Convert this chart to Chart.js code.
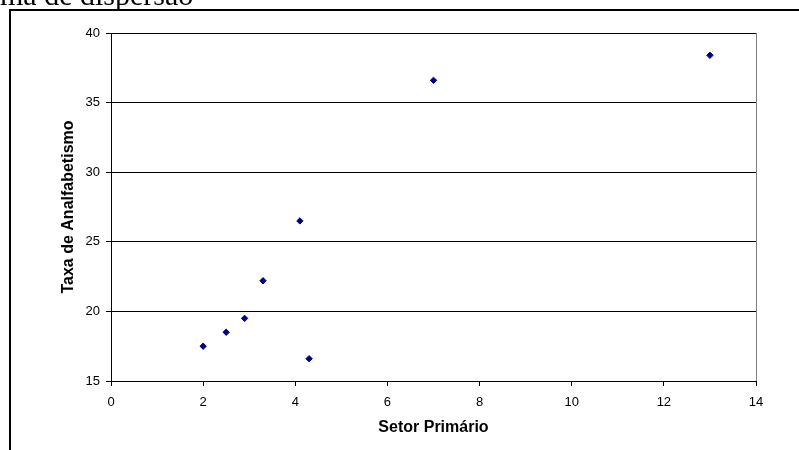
<!DOCTYPE html>
<html>
<head>
<meta charset="utf-8">
<script src="https://cdn.jsdelivr.net/npm/chart.js@4/dist/chart.umd.min.js"></script>
<style>
  html, body { margin: 0; padding: 0; background: #fff; overflow: hidden; }
  #wrap { position: relative; width: 799px; height: 450px; }
  #c { position: absolute; left: 0; top: 0; }
  #cap { position: absolute; left: 0; top: -20px; font-family: "Liberation Serif", "Times New Roman", serif; font-size: 30px; line-height: 30px; color: #000; white-space: nowrap; }
</style>
</head>
<body>
<div id="wrap">
  <canvas id="c" width="799" height="450"></canvas>
  <div id="cap">ma de dispersão</div>
</div>
<script>
const xValues = [2, 2.5, 2.9, 3.3, 4.1, 4.3, 7, 13];
const yValues = [17.5, 18.5, 19.5, 22.2, 26.5, 16.6, 36.6, 38.4];
const xTitle = 'Setor Primário';
const yTitle = 'Taxa de Analfabetismo';

const points = xValues.map((x, i) => ({ x: x, y: yValues[i] }));

const framePlugin = {
  id: 'frame',
  afterDraw(chart) {
    const ctx = chart.ctx;
    ctx.save();
    ctx.fillStyle = '#000';
    ctx.fillRect(9, 9, 2, 450);
    ctx.fillRect(9, 9, 790, 2);
    ctx.restore();
  }
};

new Chart(document.getElementById('c'), {
  type: 'scatter',
  data: {
    datasets: [{
      data: points,
      pointStyle: 'rectRot',
      pointRadius: 3.2,
      pointHoverRadius: 3.2,
      backgroundColor: '#000080',
      borderColor: '#000080',
      borderWidth: 1
    }]
  },
  options: {
    responsive: false,
    devicePixelRatio: 1,
    animation: false,
    layout: { padding: { left: 0, top: 33, right: 43, bottom: 0 } },
    plugins: { legend: { display: false }, tooltip: { enabled: false } },
    scales: {
      x: {
        type: 'linear',
        min: 0, max: 14,
        afterFit(s) { s.height = 69; },
        ticks: { stepSize: 2, padding: 9, color: '#000', font: { family: 'Arial, "Liberation Sans"', size: 13 } },
        grid: {
          drawOnChartArea: true,
          color: (c) => (c.tick && c.tick.value === 14) ? '#808080' : 'rgba(0,0,0,0)',
          tickColor: '#000',
          tickLength: 5,
          lineWidth: 1
        },
        border: { color: '#000', width: 1 },
        title: {
          display: true, text: xTitle, color: '#000',
          font: { family: 'Arial, "Liberation Sans"', size: 16, weight: 'bold' },
          padding: { top: 0, bottom: 13 }
        }
      },
      y: {
        type: 'linear',
        min: 15, max: 40,
        afterFit(s) { s.width = 111; },
        ticks: { stepSize: 5, padding: 6, color: '#000', font: { family: 'Arial, "Liberation Sans"', size: 13 } },
        grid: { color: '#000', tickColor: '#000', tickLength: 5, lineWidth: 1 },
        border: { color: '#000', width: 1 },
        title: {
          display: true, text: yTitle, color: '#000',
          font: { family: 'Arial, "Liberation Sans"', size: 16, weight: 'bold' },
          padding: { top: 59, bottom: 0 }
        }
      }
    }
  },
  plugins: [framePlugin]
});
</script>
</body>
</html>
